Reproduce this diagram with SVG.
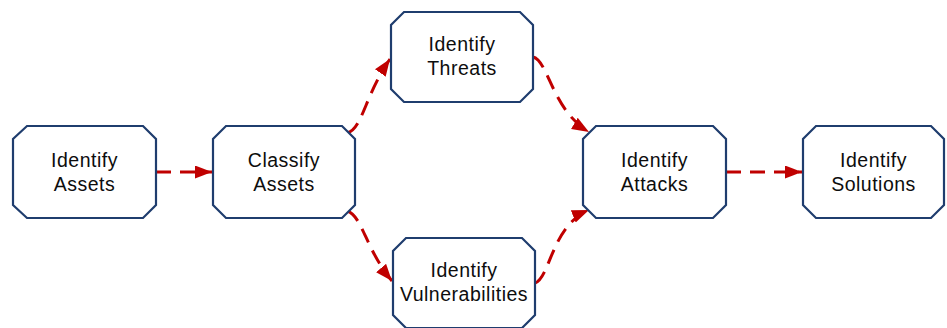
<svg xmlns="http://www.w3.org/2000/svg" width="947" height="328" viewBox="0 0 947 328">
<style>
.node{fill:#ffffff;stroke:#1f3d6e;stroke-width:2.2;}
.lbl{font-family:"Liberation Sans",Arial,sans-serif;font-size:19.5px;letter-spacing:0.5px;fill:#0d0d0d;text-anchor:middle;}
.edge{fill:none;stroke:#c00000;stroke-width:3;stroke-dasharray:15 9;}
</style>
<defs>
<marker id="ah" markerUnits="userSpaceOnUse" markerWidth="18" markerHeight="14" refX="17" refY="6.5" orient="auto">
<path d="M0,0 L17,6.5 L0,13 z" fill="#c00000"/>
</marker>
</defs>
<rect width="947" height="328" fill="#ffffff"/>
<g id="connectors">
<path class="edge" d="M156,172 L212,172" marker-end="url(#ah)"/>
<path class="edge" d="M347,133 C362,130 365,95 390,59" marker-end="url(#ah)"/>
<path class="edge" d="M533,57 C548,60 552,110 589,132" marker-end="url(#ah)"/>
<path class="edge" d="M347,211 C362,215 366,250 392,281" marker-end="url(#ah)"/>
<path class="edge" d="M535,283 C550,278 552,225 589,210" marker-end="url(#ah)"/>
<path class="edge" d="M726,172 L802,172" marker-end="url(#ah)"/>
</g>
<g id="n-identify-assets">
<path class="node" d="M27,126 L143,126 L156,139 L156,205 L143,218 L27,218 L13,205 L13,139 Z"/>
<text class="lbl" x="84.5" y="166.5">Identify</text>
<text class="lbl" x="84.5" y="190.5">Assets</text>
</g>
<g id="n-classify-assets">
<path class="node" d="M226,126 L342,126 L355,139 L355,205 L342,218 L226,218 L213,205 L213,139 Z"/>
<text class="lbl" x="284" y="166.5">Classify</text>
<text class="lbl" x="284" y="190.5">Assets</text>
</g>
<g id="n-identify-threats">
<path class="node" d="M404,12 L520,12 L533,25 L533,89 L520,102 L404,102 L391,89 L391,25 Z"/>
<text class="lbl" x="462" y="51">Identify</text>
<text class="lbl" x="462" y="75">Threats</text>
</g>
<g id="n-identify-vulnerabilities">
<path class="node" d="M406,238 L522,238 L535,251 L535,315 L522,328 L406,328 L393,315 L393,251 Z"/>
<text class="lbl" x="464" y="277">Identify</text>
<text class="lbl" x="464" y="301">Vulnerabilities</text>
</g>
<g id="n-identify-attacks">
<path class="node" d="M596,126 L713,126 L726,139 L726,205 L713,218 L596,218 L583,205 L583,139 Z"/>
<text class="lbl" x="654.5" y="166.5">Identify</text>
<text class="lbl" x="654.5" y="190.5">Attacks</text>
</g>
<g id="n-identify-solutions">
<path class="node" d="M816,126 L931,126 L944,139 L944,205 L931,218 L816,218 L803,205 L803,139 Z"/>
<text class="lbl" x="873.5" y="166.5">Identify</text>
<text class="lbl" x="873.5" y="190.5">Solutions</text>
</g>
</svg>
